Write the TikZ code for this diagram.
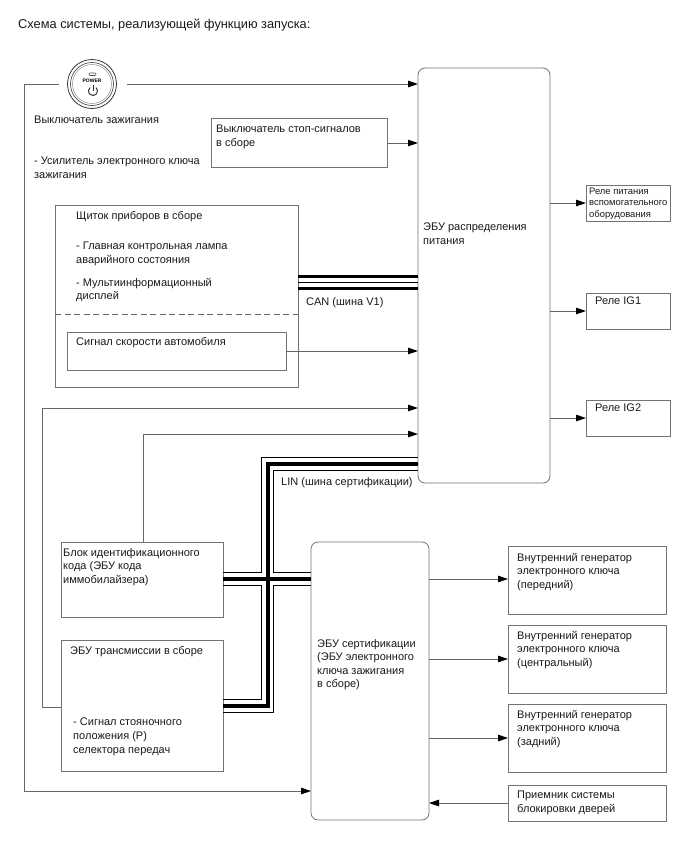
\documentclass[tikz,border=0pt]{standalone}
\usepackage{fontspec}
\setmainfont{Liberation Sans}
\usetikzlibrary{arrows.meta}
\begin{document}
\begin{tikzpicture}[x=1pt,y=-1pt]
    \tikzset{
    box/.style={rectangle,draw=black!55,line width=0.8,inner sep=0,outer sep=0,anchor=north west},
    ecu/.style={box,rounded corners=7},
    txt/.style={anchor=north west,inner sep=0,yshift=-2pt,align=left,font=\fontsize{11}{13.6}\selectfont,text=black!90},
    c1/.style={draw=black!60,line width=0.8},
    c2/.style={c1,-{Triangle[length=10pt,width=6.5pt,black]}},
    c3/.style={black,line width=3.6},
    c4/.style={black,line width=1},
    }
    \useasboundingbox (0,0) rectangle (688,852);
    \node[txt,yshift=1pt,font=\fontsize{12.8}{14}\selectfont] (title) at (18,18) {Схема системы, реализующей функцию запуска:};

    % main ECUs
    \node[ecu,minimum width=132,minimum height=415] (n1) at (418,68) {};
    \node[ecu,minimum width=118,minimum height=278] (n2) at (311,542) {};
    \node[txt] at (423,221) {ЭБУ распределения\\питания};
    \node[txt] at (317,637) {ЭБУ сертификации\\(ЭБУ электронного\\ключа зажигания\\в сборе)};

    % ignition switch
    \node[circle,draw=black!80,line width=0.8,minimum size=49,inner sep=0,outer sep=0] (btn) at (92,84) {};
    \draw[black!70,line width=0.7] (btn.center) circle (21.5);
    \draw[black!45,line width=0.5] (btn.center) circle (19.5);
    \draw[black!70,line width=0.6,rounded corners=1] (89,73) rectangle (96,75.5);
    \node[inner sep=0,font=\bfseries\fontsize{5}{5}\selectfont] (pw) at (92,80.5) {POWER};
    \draw[black!85,line width=0.9] (95.9,87.55) arc[start angle=50,delta angle=-280,radius=4.5pt];
    \draw[black!85,line width=0.9] (93,85) -- (93,91);
    \coordinate (b1) at (59,84);
    \coordinate (b2) at (127,84);
    \node[txt] at (34,114) {Выключатель зажигания};
    \node[txt] at (34,155) {- Усилитель электронного ключа\\зажигания};

    % stop switch
    \node[box,minimum width=176,minimum height=49] (n3) at (211,118) {};
    \node[txt] at (216,123) {Выключатель стоп-сигналов\\в сборе};

    % combination meter
    \node[box,minimum width=243,minimum height=182] (n4) at (55,205) {};
    \node[box,minimum width=219,minimum height=38] (n5) at (67,332) {};
    \node[txt] at (76,209) {Щиток приборов в сборе};
    \node[txt] at (76,240) {- Главная контрольная лампа\\аварийного состояния};
    \node[txt] at (76,276) {- Мультиинформационный\\дисплей};
    \node[txt] at (76,335) {Сигнал скорости автомобиля};
    \coordinate (d1) at (n4.west |- 0,314);
    \coordinate (d2) at (n4.east |- 0,314);
    \draw[c1,dash pattern=on 6pt off 3.5pt] (d1) -- (d2);

    % relays
    \node[box,minimum width=84,minimum height=36] (r1) at (586,185) {};
    \node[box,minimum width=84,minimum height=36] (r2) at (586,293) {};
    \node[box,minimum width=84,minimum height=36] (r3) at (586,400) {};
    \node[txt,yshift=1pt,font=\fontsize{9.4}{11.2}\selectfont] at (589,187) {Реле питания\\вспомогательного\\оборудования};
    \node[txt] at (595,295) {Реле IG1};
    \node[txt] at (595,402) {Реле IG2};

    % immobiliser and transmission
    \node[box,minimum width=162,minimum height=75] (n6) at (61,542) {};
    \node[box,minimum width=162,minimum height=131] (n7) at (61,640) {};
    \node[txt] at (63,546) {Блок идентификационного\\кода (ЭБУ кода\\иммобилайзера)};
    \node[txt] at (70,644) {ЭБУ трансмиссии в сборе};
    \node[txt] at (73,716) {- Сигнал стояночного\\положения (P)\\селектора передач};

    % oscillators and door receiver
    \node[box,minimum width=158,minimum height=68] (g1) at (508,546) {};
    \node[box,minimum width=158,minimum height=68] (g2) at (508,625) {};
    \node[box,minimum width=158,minimum height=68] (g3) at (508,704) {};
    \node[box,minimum width=158,minimum height=36] (g4) at (508,785) {};
    \node[txt] at (517,551) {Внутренний генератор\\электронного ключа\\(передний)};
    \node[txt] at (517,629) {Внутренний генератор\\электронного ключа\\(центральный)};
    \node[txt] at (517,708) {Внутренний генератор\\электронного ключа\\(задний)};
    \node[txt] at (517,789) {Приемник системы\\блокировки дверей};

    % signal lines
    \draw[c2] (b2) -- (b2 -| n1.west);
    \draw[c2] (b1) -- (24,84) |- (n2.west |- 0,791);
    \draw[c2] (n3.east |- 0,143) -- (n1.west |- 0,143);
    \draw[c2] (n5.east) -- (n5.east -| n1.west);
    \draw[c2] (n7.west |- 0,707) -- (42,707) |- (n1.west |- 0,408);
    \draw[c2] (143,542) |- (n1.west |- 0,434);
    \draw[c2] (n1.east |- r1.west) -- (r1.west);
    \draw[c2] (n1.east |- r2.west) -- (r2.west);
    \draw[c2] (n1.east |- r3.west) -- (r3.west);
    \draw[c2] (n2.east |- 0,579) -- (g1.west |- 0,579);
    \draw[c2] (n2.east |- g2.west) -- (g2.west);
    \draw[c2] (n2.east |- g3.west) -- (g3.west);
    \draw[c2] (g4.west |- 0,803) -- (n2.east |- 0,803);

    % CAN
    \draw[c3] (n4.east |- 0,276.5) -- (n1.west |- 0,276.5);
    \draw[c3] (n4.east |- 0,288.5) -- (n1.west |- 0,288.5);
    \draw[c4] (n4.east |- 0,282.5) -- (n1.west |- 0,282.5);
    \node[txt] at (306,295) {CAN (шина V1)};

    % LIN
    \draw[c3] (n1.west |- 0,464) -- (268,464) -- (268,706) -- (n7.east |- 0,706);
    \draw[c3] (n6.east |- 0,579) -- (n2.west |- 0,579);
    \draw[c4] (n1.west |- 0,457.5) -- (261.5,457.5) -- (261.5,572.5) -- (n6.east |- 0,572.5);
    \draw[c4] (n1.west |- 0,470.5) -- (273.5,470.5) -- (273.5,572.5) -- (n2.west |- 0,572.5);
    \draw[c4] (n6.east |- 0,585.5) -- (261.5,585.5) -- (261.5,699.5) -- (n7.east |- 0,699.5);
    \draw[c4] (n2.west |- 0,585.5) -- (273.5,585.5) -- (273.5,712) -- (n7.east |- 0,712);
    \node[txt] at (281,475) {LIN (шина сертификации)};
\end{tikzpicture}
\end{document}
